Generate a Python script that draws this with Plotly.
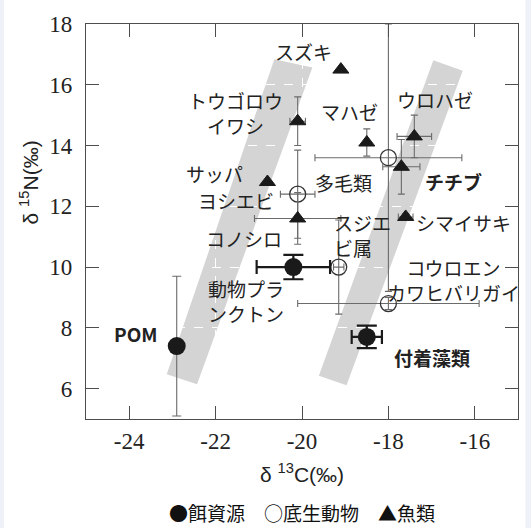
import plotly.graph_objects as go

# --- food sources (餌資源) ---
src_names = ["POM", "動物プランクトン", "付着藻類"]
src_x = [-22.9, -20.2, -18.5]
src_y = [7.4, 10.0, 7.7]
src_xerr = [0.0, 0.85, 0.35]
src_yerr = [2.3, 0.4, 0.37]

# --- benthos (底生動物) ---
ben_names = ["ヨシエビ", "多毛類", "スジエビ属", "コウロエンカワヒバリガイ"]
ben_x = [-20.1, -18.0, -19.15, -18.0]
ben_y = [12.4, 13.6, 10.0, 8.8]
ben_xerr = [0.4, 1.7, 0.12, 2.1]
ben_yerr = [1.45, 4.4, 1.55, 0.2]

# --- fish (魚類) ---
fish_names = ["スズキ", "トウゴロウイワシ", "マハゼ", "ウロハゼ", "チチブ", "シマイサキ", "サッパ", "コノシロ"]
fish_x = [-19.1, -20.1, -18.5, -17.4, -17.7, -17.6, -20.8, -20.1]
fish_y = [16.5, 14.8, 14.1, 14.3, 13.3, 11.65, 12.8, 11.6]
fish_xerr = [0.0, 0.18, 0.0, 0.4, 0.43, 0.17, 0.0, 1.0]
fish_yerr = [0.0, 0.8, 0.45, 0.7, 0.9, 0.1, 0.0, 0.85]

# trophic enrichment bands (corner points, δ13C / δ15N)
band_left_x = [-23.13, -22.43, -19.76, -20.64]
band_left_y = [6.47, 6.14, 16.57, 16.84]
band_right_x = [-19.61, -18.97, -16.28, -16.96]
band_right_y = [6.42, 6.11, 16.46, 16.81]

# text labels: (text, x, y, anchor, bold)
labels = [
    ("スズキ", -19.96, 17.09, "center", False),
    ("トウゴロウ<br>イワシ", -21.54, 15.07, "center", False),
    ("マハゼ", -18.90, 15.11, "center", False),
    ("ウロハゼ", -16.93, 15.52, "center", False),
    ("多毛類", -19.04, 12.77, "center", False),
    ("チチブ", -16.49, 12.81, "center", True),
    ("シマイサキ", -16.26, 11.46, "center", False),
    ("サッパ", -22.02, 13.08, "center", False),
    ("ヨシエビ", -21.52, 12.20, "center", False),
    ("コノシロ", -21.35, 10.94, "center", False),
    ("スジエ<br>ビ属", -19.30, 11.05, "left", False),
    ("動物プラ<br>ンクトン", -22.22, 8.88, "left", False),
    ("コウロエン<br>カワヒバリガイ", -16.50, 9.58, "center", False),
    ("POM", -23.85, 7.83, "center", True),
    ("付着藻類", -17.0, 7.04, "center", True),
]

x_ticks = [-24, -22, -20, -18, -16]
y_ticks = [6, 8, 10, 12, 14, 16, 18]
x_range = [-25, -15]
y_range = [5, 18]

INK = "#1a1a1a"
BAR = "#6b6b6b"
JP = "Noto Sans CJK JP"
SERIF = "Liberation Serif"

fig = go.Figure()

for bx, by in [(band_left_x, band_left_y), (band_right_x, band_right_y)]:
    path = "M " + " L ".join(f"{x},{y}" for x, y in zip(bx, by)) + " Z"
    fig.add_shape(type="path", path=path, xref="x", yref="y",
                  fillcolor="#d4d4d4", line=dict(width=0), layer="below")

# POM has a thin grey bar, the other food sources heavy black bars
thin_idx = [i for i, n in enumerate(src_names) if n == "POM"]
thick_idx = [i for i, n in enumerate(src_names) if n != "POM"]


def pick(lst, idx):
    return [lst[i] for i in idx]


# benthos
fig.add_trace(go.Scatter(
    x=ben_x, y=ben_y, mode="markers", name="底生動物", text=ben_names,
    marker=dict(symbol="circle-open", size=16, color="#333333", line=dict(width=1.3)),
    error_x=dict(type="data", array=ben_xerr, color=BAR, thickness=1.1, width=3.5),
    error_y=dict(type="data", array=ben_yerr, color=BAR, thickness=1.1, width=3.5),
))

# fish
fig.add_trace(go.Scatter(
    x=fish_x, y=fish_y, mode="markers", name="魚類", text=fish_names,
    marker=dict(symbol="triangle-up", size=14, color=INK, line=dict(width=1, color=INK)),
    error_x=dict(type="data", array=fish_xerr, color=BAR, thickness=1.1, width=3.5),
    error_y=dict(type="data", array=fish_yerr, color=BAR, thickness=1.1, width=3.5),
))

# food sources
fig.add_trace(go.Scatter(
    x=pick(src_x, thin_idx), y=pick(src_y, thin_idx), mode="markers", name="餌資源",
    text=pick(src_names, thin_idx),
    marker=dict(symbol="circle", size=18, color=INK),
    error_x=dict(type="data", array=pick(src_xerr, thin_idx), color=BAR, thickness=1.1, width=4.5),
    error_y=dict(type="data", array=pick(src_yerr, thin_idx), color=BAR, thickness=1.1, width=4.5),
))
fig.add_trace(go.Scatter(
    x=pick(src_x, thick_idx), y=pick(src_y, thick_idx), mode="markers", name="餌資源",
    text=pick(src_names, thick_idx), showlegend=False,
    marker=dict(symbol="circle", size=18, color=INK),
    error_x=dict(type="data", array=pick(src_xerr, thick_idx), color=INK, thickness=2.2, width=7),
    error_y=dict(type="data", array=pick(src_yerr, thick_idx), color=INK, thickness=2.2, width=10),
))

for text, x, y, anchor, bold in labels:
    fig.add_annotation(
        x=x, y=y, xref="x", yref="y", text=f"<b>{text}</b>" if bold else text,
        showarrow=False, xanchor=anchor, yanchor="middle", align=anchor,
        font=dict(family=JP, size=19, color="#222222"),
    )

# axis titles and key
fig.add_annotation(
    x=-0.131, y=0.60, xref="paper", yref="paper", textangle=-90,
    text="δ <sup>15</sup>N(‰)", showarrow=False, xanchor="center", yanchor="middle",
    font=dict(family="Liberation Sans", size=21, color="#222222"),
)
fig.add_annotation(
    x=0.5, y=-0.137, xref="paper", yref="paper",
    text="δ <sup>13</sup>C(‰)", showarrow=False, xanchor="center", yanchor="middle",
    font=dict(family="Liberation Sans", size=21, color="#222222"),
)
fig.add_annotation(
    x=0.5, y=-0.236, xref="paper", yref="paper",
    text="●餌資源　○底生動物　▲魚類", showarrow=False, xanchor="center", yanchor="middle",
    font=dict(family=JP, size=19, color="#111111"),
)

# white sheet over the light page edge
fig.add_shape(type="rect", xref="paper", yref="paper", x0=-0.19, x1=1.017, y0=-0.5, y1=1.2,
              fillcolor="white", line=dict(width=0), layer="below")

axis_common = dict(
    showline=True, linecolor="#4d4d4d", linewidth=1.3, mirror="ticks",
    ticks="inside", ticklen=13, tickwidth=1.2, tickcolor="#4d4d4d",
    showgrid=True, gridcolor="white", griddash="dash", gridwidth=1,
    zeroline=False,
    tickfont=dict(family=SERIF, size=23, color="#222222"),
)
fig.update_xaxes(range=x_range, tickvals=x_ticks, ticktext=[str(v) for v in x_ticks],
                 ticklabelstandoff=1, **axis_common)
fig.update_yaxes(range=y_range, tickvals=y_ticks, ticktext=[str(v) for v in y_ticks],
                 ticklabelstandoff=8, **axis_common)

fig.update_layout(
    width=531, height=528,
    margin=dict(l=86, r=13, t=24, b=109),
    paper_bgcolor="#eef2f8", plot_bgcolor="white",
    showlegend=False,
)

fig.write_html("out.html")
